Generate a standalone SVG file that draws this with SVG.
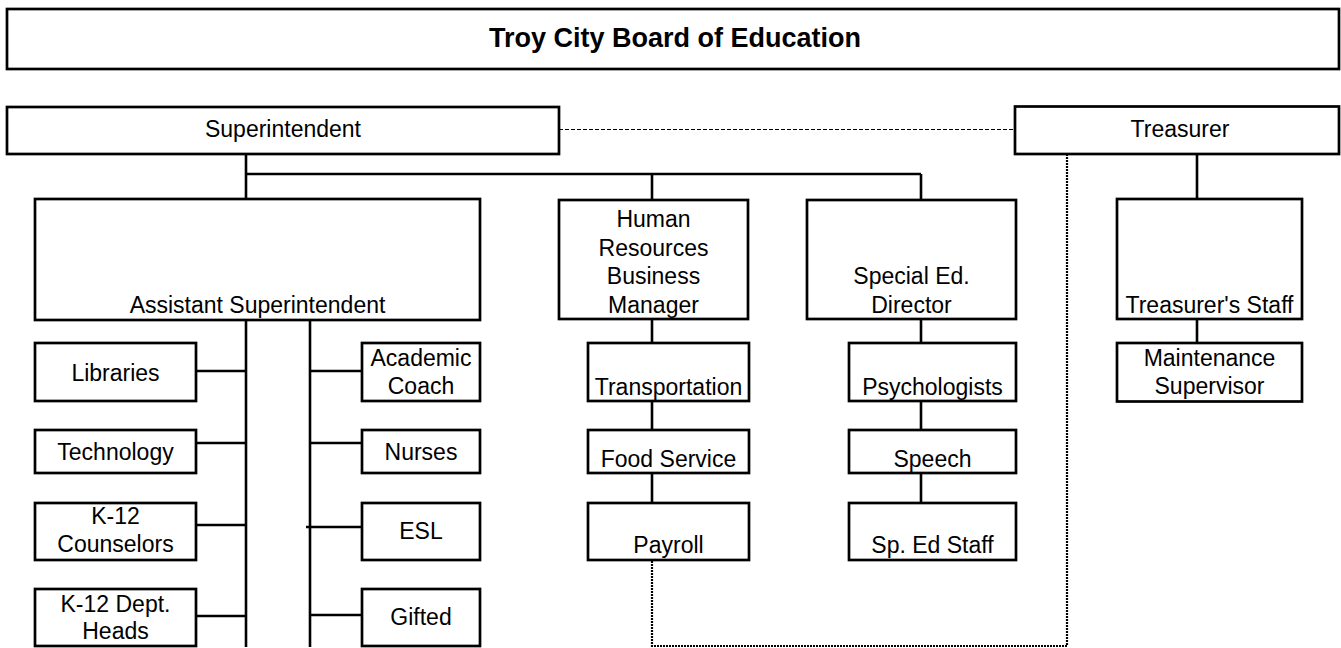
<svg xmlns="http://www.w3.org/2000/svg" width="1341" height="648" viewBox="0 0 1341 648">
<style>
.b{fill:#fff;stroke:#000;stroke-width:2.7}
.t{font-family:"Liberation Sans",Arial,sans-serif;font-size:23px;fill:#000;text-anchor:middle}
.h{font-family:"Liberation Sans",Arial,sans-serif;font-size:27px;font-weight:bold;fill:#000;text-anchor:middle}
.c{fill:none;stroke:#000;stroke-width:2.6}
.d{fill:none;stroke:#000;stroke-width:1.2;stroke-dasharray:4 2}
.o{fill:none;stroke:#000;stroke-width:2.2;stroke-dasharray:2 1}
</style>
<rect width="1341" height="648" fill="#fff"/>
<g id="connectors">
<path class="c" d="M246 154V174M246 174H921M246 174V199M652 174V200M921 174V200"/>
<path class="c" d="M1197 154V199M1197 319V343"/>
<path class="c" d="M652 319V343M652 401V430M652 473V503"/>
<path class="c" d="M921 319V343M921 401V430M921 473V503"/>
<path class="c" d="M246 320V647M310 320V647"/>
<path class="c" d="M196 371H246M196 443H246M196 525H246M196 616H246"/>
<path class="c" d="M310 371H362M310 443H362M306 527H362M310 615H362"/>
<path class="d" d="M559 129.5H1015"/>
<path class="o" d="M1067 154V646H652V560"/>
</g>
<g id="board"><rect class="b" x="7" y="9" width="1332" height="60"/><text class="h" x="675" y="47">Troy City Board of Education</text></g>
<g id="superintendent"><rect class="b" x="7" y="107" width="552" height="47"/><text class="t" x="283" y="137">Superintendent</text></g>
<g id="treasurer"><rect class="b" x="1015" y="106.5" width="324" height="47.5"/><text class="t" x="1180" y="137">Treasurer</text></g>
<g id="asst-super"><rect class="b" x="35" y="199" width="445" height="121"/><text class="t" x="257.5" y="313">Assistant Superintendent</text></g>
<g id="hr"><rect class="b" x="559" y="200" width="189" height="119"/><text class="t" x="653.5" y="227">Human</text><text class="t" x="653.5" y="255.5">Resources</text><text class="t" x="653.5" y="284">Business</text><text class="t" x="653.5" y="312.5">Manager</text></g>
<g id="special-ed"><rect class="b" x="807" y="200" width="209" height="119"/><text class="t" x="911.5" y="284">Special Ed.</text><text class="t" x="911.5" y="312.5">Director</text></g>
<g id="treasurers-staff"><rect class="b" x="1117" y="199" width="185" height="120"/><text class="t" x="1209.5" y="312.5">Treasurer's Staff</text></g>
<g id="maintenance"><rect class="b" x="1117" y="343" width="185" height="58.5"/><text class="t" x="1209.5" y="366">Maintenance</text><text class="t" x="1209.5" y="394">Supervisor</text></g>
<g id="transportation"><rect class="b" x="588" y="343" width="161" height="58"/><text class="t" x="668.5" y="395">Transportation</text></g>
<g id="food-service"><rect class="b" x="588" y="430" width="161" height="43"/><text class="t" x="668.5" y="466.5">Food Service</text></g>
<g id="payroll"><rect class="b" x="588" y="503" width="161" height="57"/><text class="t" x="668.5" y="553">Payroll</text></g>
<g id="psychologists"><rect class="b" x="849" y="343" width="167" height="58"/><text class="t" x="932.5" y="394.5">Psychologists</text></g>
<g id="speech"><rect class="b" x="849" y="430" width="167" height="43"/><text class="t" x="932.5" y="466.5">Speech</text></g>
<g id="sp-ed-staff"><rect class="b" x="849" y="503" width="167" height="57"/><text class="t" x="932.5" y="553">Sp. Ed Staff</text></g>
<g id="libraries"><rect class="b" x="35" y="343" width="161" height="58"/><text class="t" x="115.5" y="381">Libraries</text></g>
<g id="technology"><rect class="b" x="35" y="430" width="161" height="43"/><text class="t" x="115.5" y="460">Technology</text></g>
<g id="counselors"><rect class="b" x="35" y="503" width="161" height="57"/><text class="t" x="115.5" y="524">K-12</text><text class="t" x="115.5" y="552">Counselors</text></g>
<g id="dept-heads"><rect class="b" x="35" y="589" width="161" height="57"/><text class="t" x="115.5" y="611.5">K-12 Dept.</text><text class="t" x="115.5" y="639">Heads</text></g>
<g id="academic-coach"><rect class="b" x="362" y="343" width="118" height="58"/><text class="t" x="421" y="365.5">Academic</text><text class="t" x="421" y="393.5">Coach</text></g>
<g id="nurses"><rect class="b" x="362" y="430" width="118" height="43"/><text class="t" x="421" y="459.5">Nurses</text></g>
<g id="esl"><rect class="b" x="362" y="503" width="118" height="57"/><text class="t" x="421" y="539">ESL</text></g>
<g id="gifted"><rect class="b" x="362" y="589" width="118" height="57"/><text class="t" x="421" y="625">Gifted</text></g>
</svg>
